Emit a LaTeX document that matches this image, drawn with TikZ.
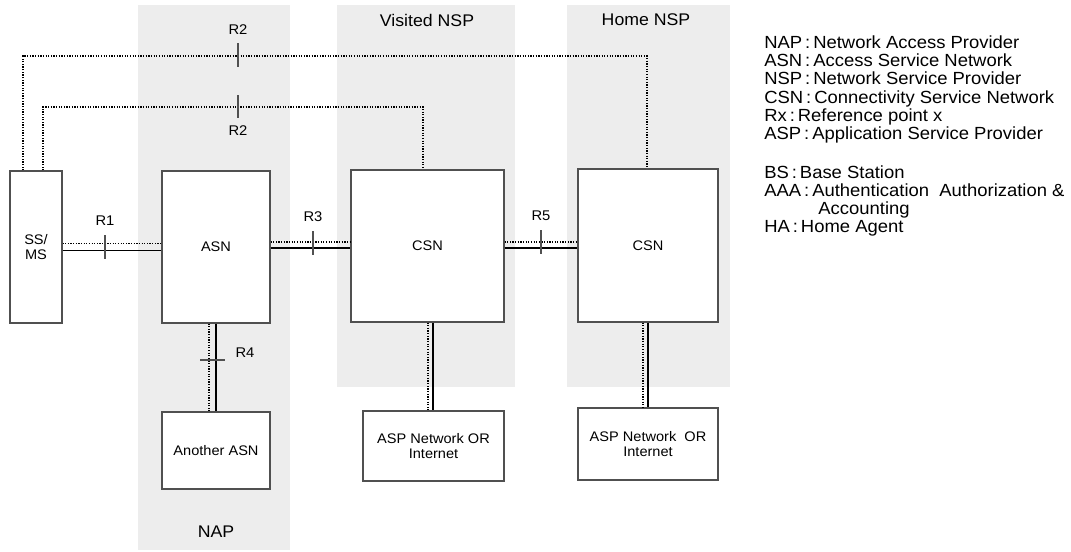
\documentclass[tikz,border=0pt]{standalone}
\usepackage{fontspec}
\setmainfont[FakeStretch=1.05]{Liberation Sans}
\usetikzlibrary{calc}
\definecolor{bandgray}{RGB}{237,237,237}
\definecolor{edgegray}{RGB}{80,80,80}

\begin{document}
\begin{tikzpicture}[x=0.02cm, y=-0.02cm,
    box/.style={draw=edgegray, line width=0.6pt, fill=white, align=center, inner sep=0pt, font=\fontsize{7.9}{9}\selectfont},
    dotline/.style={line width=1.1pt, dash pattern=on 0.7pt off 0.8pt},
    solidline/.style={line width=1.1pt},
    tickmark/.style={line width=0.6pt, edgegray},
    rlabel/.style={font=\fontsize{8}{9}\selectfont},
    bandlabel/.style={font=\fontsize{9.6}{11}\selectfont},
    legend/.style={anchor=base west, inner sep=0pt, font=\fontsize{10}{12}\selectfont}]
    \useasboundingbox (0,0) rectangle (1071,551);

    % provider bands
    \fill[bandgray] (138,5) rectangle (290,550);
    \fill[bandgray] (337,5) rectangle (515,387);
    \fill[bandgray] (567,5) rectangle (730,387);
    \node[bandlabel] (visited) at (427,20) {Visited NSP};
    \node[bandlabel] (home) at (646,20) {Home NSP};
    \node[bandlabel] (nap) at (216,532) {NAP};

    % boxes
    \node[box, minimum width=1.04cm, minimum height=3.04cm] (ss) at (36,247) {SS/\\MS};
    \node[box, minimum width=2.16cm, minimum height=3.04cm] (asn) at (216,247) {ASN};
    \node[box, minimum width=2.16cm, minimum height=1.54cm] (asn2) at (216,450.5) {Another ASN};
    \node[box, minimum width=3.06cm, minimum height=3.04cm] (csnv) at (427.5,246) {CSN};
    \node[box, minimum width=2.8cm, minimum height=3.06cm] (csnh) at (648,245.5) {CSN};
    \node[box, minimum width=2.82cm, minimum height=1.4cm] (aspv) at (433.5,446) {ASP Network OR\\Internet};
    \node[box, minimum width=2.8cm, minimum height=1.44cm] (asph) at (648,444) {ASP Network~ OR\\Internet};

    % R1, R3, R5
    \draw[dotline] ([yshift=2pt]ss.east) -- ([yshift=2pt]asn.west);
    \draw[solidline] ([yshift=-2pt]ss.east) -- ([yshift=-2pt]asn.west);
    \draw[dotline] ([yshift=3pt]asn.east) -- ([yshift=3pt]asn.east -| csnv.west);
    \draw[solidline] ([yshift=-0.5pt]asn.east) -- ([yshift=-0.5pt]asn.east -| csnv.west);
    \draw[dotline] ([yshift=2.5pt]csnv.east) -- ([yshift=2.5pt]csnv.east -| csnh.west);
    \draw[solidline] ([yshift=-1pt]csnv.east) -- ([yshift=-1pt]csnv.east -| csnh.west);
    \foreach \x/\y/\name in {105/247/R1, 313/243/R3, 541/242/R5} {
        \coordinate (t\name) at (\x,\y);
        \draw[tickmark] ($(t\name)+(0,-12)$) -- ++(0,24);
        \node[rlabel] at ($(t\name)+(0,-26)$) {\name};
    }

    % R4
    \draw[dotline] (asn.south -| 209,0) -- (asn2.north -| 209,0);
    \draw[solidline] (asn.south -| 216,0) -- (asn2.north -| 216,0);
    \coordinate (tR4) at (212,360);
    \draw[tickmark] ($(tR4)+(-12,0)$) -- ++(25,0);
    \node[rlabel] at (245,353) {R4};

    % to ASP
    \draw[dotline] (csnv.south -| 428,0) -- (aspv.north -| 428,0);
    \draw[solidline] (csnv.south -| 433,0) -- (aspv.north -| 433,0);
    \draw[dotline] (csnh.south -| 643,0) -- (asph.north -| 643,0);
    \draw[solidline] (csnh.south -| 648,0) -- (asph.north -| 648,0);

    % R2
    \coordinate (r2outer) at (647,56);
    \coordinate (r2inner) at (423,107);
    \draw[dotline] (ss.north -| 23,0) |- (r2outer) -- (csnh.north -| r2outer);
    \draw[dotline] (ss.north -| 43,0) |- (r2inner) -- (csnv.north -| r2inner);
    \draw[tickmark] (238,43) -- (238,67);
    \draw[tickmark] (238,95) -- (238,118);
    \node[rlabel] at (238,30) {R2};
    \node[rlabel] at (238,131) {R2};

    % legend
    \node[legend] (l1) at (764,48.5) {NAP\,:\,Network Access Provider};
    \node[legend] (l2) at (764,66.7) {ASN\,:\,Access Service Network};
    \node[legend] (l3) at (764,84.9) {NSP\,:\,Network Service Provider};
    \node[legend] (l4) at (764,103) {CSN\,:\,Connectivity Service Network};
    \node[legend] (l5) at (764,121) {Rx\,:\,Reference point x};
    \node[legend] (l6) at (764,139.5) {ASP\,:\,Application Service Provider};
    \node[legend] (l7) at (764,178) {BS\,:\,Base Station};
    \node[legend] (l8) at (764,196) {AAA\,:\,Authentication~ Authorization \&};
    \node[legend] (l9) at (818,214) {Accounting};
    \node[legend] (l10) at (764,232) {HA\,:\,Home Agent};
\end{tikzpicture}
\end{document}
